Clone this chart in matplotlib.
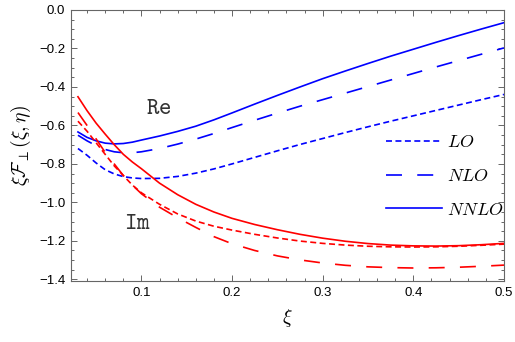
import matplotlib
matplotlib.use("Agg")
import matplotlib.pyplot as plt
from matplotlib.ticker import MultipleLocator, FuncFormatter

plt.rcParams['mathtext.fontset'] = 'cm'
plt.rcParams['lines.scale_dashes'] = False

xi = [0.03, 0.04, 0.05, 0.06, 0.07, 0.08, 0.09, 0.10, 0.12, 0.14, 0.16, 0.18,
      0.200, 0.225, 0.250, 0.275, 0.300, 0.325, 0.350, 0.375, 0.400, 0.425,
      0.450, 0.475, 0.500]

re_lo = [-0.720, -0.755, -0.795, -0.830, -0.852, -0.866, -0.873, -0.876, -0.875,
         -0.865, -0.848, -0.826, -0.800, -0.766, -0.732, -0.699, -0.668, -0.637,
         -0.607, -0.578, -0.550, -0.522, -0.494, -0.466, -0.439]
re_nlo = [-0.651, -0.680, -0.705, -0.725, -0.737, -0.742, -0.742, -0.737, -0.720,
          -0.697, -0.671, -0.642, -0.611, -0.573, -0.536, -0.500, -0.466, -0.432,
          -0.398, -0.364, -0.330, -0.296, -0.263, -0.230, -0.197]
re_nnlo = [-0.634, -0.662, -0.680, -0.692, -0.696, -0.694, -0.687, -0.676, -0.655,
           -0.631, -0.604, -0.571, -0.535, -0.489, -0.444, -0.400, -0.357, -0.317,
           -0.278, -0.240, -0.204, -0.168, -0.133, -0.099, -0.066]

im_lo = [-0.578, -0.630, -0.690, -0.750, -0.810, -0.860, -0.910, -0.950, -1.010,
         -1.060, -1.097, -1.124, -1.144, -1.166, -1.185, -1.201, -1.213, -1.222,
         -1.228, -1.231, -1.232, -1.231, -1.228, -1.223, -1.217]
im_nlo = [-0.533, -0.600, -0.670, -0.740, -0.800, -0.860, -0.910, -0.955, -1.025,
          -1.080, -1.130, -1.178, -1.215, -1.250, -1.278, -1.299, -1.315, -1.327,
          -1.335, -1.339, -1.341, -1.340, -1.337, -1.332, -1.326]
im_nnlo = [-0.451, -0.523, -0.588, -0.645, -0.700, -0.750, -0.790, -0.825, -0.900,
           -0.960, -1.010, -1.050, -1.083, -1.115, -1.142, -1.166, -1.186, -1.202,
           -1.214, -1.222, -1.226, -1.227, -1.225, -1.220, -1.213]

labels = [r'$LO$', r'$NLO$', r'$NNLO$']

fig = plt.figure(figsize=(5.15, 3.42), dpi=100)
ax = fig.add_axes([0.1373, 0.1784, 0.9786 - 0.1373, 0.9708 - 0.1784])

lw = 1.2
dot = (0, (4.3, 2.5))
dash = (0, (11.5, 11.0))
blue = '#0000ff'
red = '#ff0000'

h1, = ax.plot(xi, re_lo, color=blue, lw=lw, linestyle=dot)
h2, = ax.plot(xi, re_nlo, color=blue, lw=lw, linestyle=dash)
h3, = ax.plot(xi, re_nnlo, color=blue, lw=lw, linestyle='-')
ax.plot(xi, im_lo, color=red, lw=lw, linestyle=dot)
ax.plot(xi, im_nlo, color=red, lw=lw, linestyle=dash)
ax.plot(xi, im_nnlo, color=red, lw=lw, linestyle='-')

ax.set_xlim(0.022, 0.5)
ax.set_ylim(-1.4085, 0.0)

ax.xaxis.set_major_locator(MultipleLocator(0.1))
ax.xaxis.set_minor_locator(MultipleLocator(0.02))
ax.yaxis.set_major_locator(MultipleLocator(0.2))
ax.yaxis.set_minor_locator(MultipleLocator(0.05))

def fmt(v, pos):
    s = f"{v:.1f}"
    if s == "-0.0":
        s = "0.0"
    return s.replace('-', '\u2212')

ax.xaxis.set_major_formatter(FuncFormatter(fmt))
ax.yaxis.set_major_formatter(FuncFormatter(fmt))

frame = '#666666'
for s in ax.spines.values():
    s.set_color(frame)
    s.set_linewidth(0.8)
ax.tick_params(which='both', direction='in', top=True, right=True, color=frame,
               labelsize=9.5, labelcolor='black', width=0.7)
ax.tick_params(which='major', length=4.5, pad=4)
ax.tick_params(which='minor', length=2.5)
for lab in ax.get_xticklabels() + ax.get_yticklabels():
    lab.set_fontfamily('Liberation Sans')

ax.set_xlabel(r'$\xi$', fontsize=14, labelpad=6)
ax.set_ylabel(r'$\xi\mathcal{F}_{\perp}(\xi,\eta)$', fontsize=14, labelpad=4)

ax.text(0.1194, -0.505, r'$\mathtt{Re}$', fontsize=17,
        ha='center', va='center', color='#333333')
ax.text(0.0956, -1.10, r'$\mathtt{Im}$', fontsize=17,
        ha='center', va='center', color='#333333')

leg = ax.legend([h1, h2, h3], labels, frameon=False, fontsize=13,
                handlelength=3.1, handletextpad=0.3, labelspacing=0.88,
                loc='upper left', bbox_to_anchor=(386 / 515, 1 - 133 / 342),
                bbox_transform=fig.transFigure, borderpad=0, borderaxespad=0)

fig.savefig('out.png', dpi=100)
